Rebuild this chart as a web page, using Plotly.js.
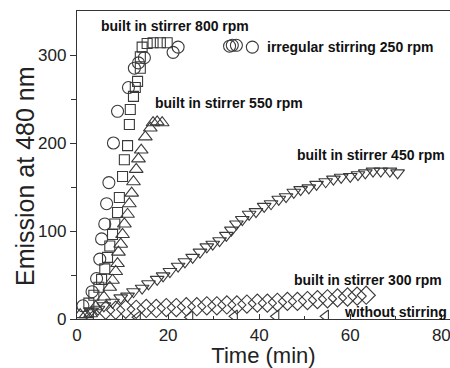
<!DOCTYPE html>
<html>
<head>
<meta charset="utf-8">
<script src="https://cdn.plot.ly/plotly-3.0.1.min.js"></script>
<style>html,body{margin:0;padding:0;background:#fff;}#chart{width:450px;height:368px;}</style>
</head>
<body>
<div id="chart"></div>
<script>
// irregular stirring 250 rpm (circles)
var circX = [1.3, 3.3, 4.3, 5.0, 5.4, 6.1, 6.5, 7.0, 8.0, 8.9, 11.3, 12.6, 13.5, 14.8, 21.1, 22.2, 33.5, 34.1, 35.0, 38.5];
var circY = [15, 31, 46, 68, 91, 108, 131, 155, 200, 236, 263, 285, 291, 297, 303, 309, 310, 311, 311, 309];
// built in stirrer 800 rpm (squares)
var sqX = [2.6, 3.7, 4.8, 5.4, 6.1, 6.7, 7.2, 7.8, 8.3, 8.9, 9.3, 10.0, 10.4, 11.1, 11.5, 11.7, 12.4, 12.8, 13.3, 13.9, 13.9, 14.3, 15.4, 16.7, 18.3, 19.8];
var sqY = [18, 27, 36, 45, 57, 70, 83, 96, 108, 121, 138, 162, 181, 197, 221, 238, 253, 263, 270, 285, 298, 309, 313, 314, 314, 314];
// built in stirrer 550 rpm (up triangles)
var upX = [0.7, 2.0, 3.0, 4.1, 5.9, 7.2, 7.8, 8.5, 8.9, 9.1, 9.6, 10.0, 10.4, 11.1, 11.5, 12.0, 12.4, 13.0, 13.5, 14.1, 15.0, 16.1, 16.7, 17.6, 18.7];
var upY = [5, 5, 6, 14, 25, 36, 44, 54, 63, 76, 85, 96, 108, 119, 131, 143, 156, 170, 182, 192, 207, 217, 223, 224, 223];
// built in stirrer 450 rpm (down triangles)
var dnX = [3.0, 4.6, 5.9, 7.8, 9.6, 11.1, 12.4, 14.3, 15.7, 17.6, 18.9, 20.4, 22.2, 23.7, 25.4, 27.0, 28.5, 29.8, 31.3, 32.8, 33.9, 35.0, 36.3, 37.8, 39.3, 41.1, 42.6, 44.3, 45.9, 47.6, 49.1, 50.9, 52.6, 54.6, 56.3, 58.0, 60.0, 61.7, 63.3, 65.0, 66.7, 68.7, 70.4];
var dnY = [9, 11, 15, 19, 24, 26, 31, 35, 40, 45, 49, 54, 60, 65, 70, 76, 82, 85, 89, 95, 101, 108, 113, 119, 122, 128, 131, 136, 139, 144, 147, 149, 153, 156, 159, 161, 162, 164, 166, 168, 168, 168, 166];
// built in stirrer 300 rpm (diamonds)
var diaX = [6.3, 8.5, 10.7, 13.0, 15.2, 17.4, 19.6, 21.8, 24.0, 26.3, 28.5, 30.7, 32.9, 35.1, 37.3, 39.6, 41.8, 44.0, 46.2, 48.4, 50.6, 52.8, 55.0, 57.2, 59.4, 61.5, 63.5];
var diaY = [10, 10, 11, 11, 12, 12, 13, 13, 14, 14, 15, 15, 16, 16, 17, 18, 18, 19, 20, 20, 21, 22, 23, 24, 25, 26, 27];
// without stirring (left triangles)
var lftX = [3.0, 13.3, 24.8, 34.6, 43.7, 54.6];
var lftY = [2, 2, 2, 3, 3, 3];

var xTicks = [0, 20, 40, 60, 80];
var yTicks = [0, 100, 200, 300];

var labels = [
  {text: 'built in stirrer 800 rpm', x: 4.8, y: 333},
  {text: 'irregular stirring 250 rpm', x: 41.3, y: 309},
  {text: 'built in stirrer 550 rpm', x: 16.7, y: 246},
  {text: 'built in stirrer 450 rpm', x: 47.9, y: 186},
  {text: 'built in stirrer 300 rpm', x: 47.2, y: 44},
  {text: 'without stirring', x: 58.2, y: 8}
];

var mk = function(sym, size) {
  return {symbol: sym, size: size, color: '#3a3a3a', line: {color: '#3a3a3a', width: 1.1}};
};
var traces = [
  {x: lftX, y: lftY, mode: 'markers', type: 'scatter', marker: mk('triangle-left-open', 11)},
  {x: diaX, y: diaY, mode: 'markers', type: 'scatter', marker: mk('diamond-open', 14)},
  {x: dnX, y: dnY, mode: 'markers', type: 'scatter', marker: mk('triangle-down-open', 12)},
  {x: upX, y: upY, mode: 'markers', type: 'scatter', marker: mk('triangle-up-open', 12)},
  {x: sqX, y: sqY, mode: 'markers', type: 'scatter', marker: mk('square-open', 10)},
  {x: circX, y: circY, mode: 'markers', type: 'scatter', marker: mk('circle-open', 12)}
];

var annots = labels.map(function(a) {
  return {text: '<b>' + a.text + '</b>', x: a.x, y: a.y, xref: 'x', yref: 'y',
    xanchor: 'left', yanchor: 'middle', showarrow: false,
    font: {size: 14, color: '#111', family: 'Liberation Sans, Arial, sans-serif'}};
});
annots.push({text: 'Emission at 480 nm', textangle: -90, xref: 'paper', yref: 'paper',
  x: (25 - 77) / 373, y: (319 - 176) / 308, xanchor: 'center', yanchor: 'middle',
  showarrow: false, font: {size: 25, color: '#222', family: 'Liberation Sans, Arial, sans-serif'}});

var layout = {
  width: 450, height: 368,
  margin: {l: 77, r: 0, t: 11, b: 49},
  paper_bgcolor: '#fff', plot_bgcolor: '#fff',
  showlegend: false,
  font: {family: 'Liberation Sans, Arial, sans-serif', color: '#222'},
  xaxis: {
    range: [0, 81.9], tickvals: xTicks, ticktext: xTicks.map(String),
    ticks: 'inside', ticklen: 5, tickcolor: '#333', showgrid: false, zeroline: false,
    showline: true, linecolor: '#333', linewidth: 1.2, mirror: true,
    tickfont: {size: 17}, ticklabeloverflow: 'allow',
    minor: {tickvals: [10, 30, 50, 70], ticks: 'inside', ticklen: 3, tickcolor: '#333'},
    title: {text: 'Time (min)', font: {size: 22}, standoff: 2}
  },
  yaxis: {
    range: [0, 350], tickvals: yTicks, ticktext: yTicks.map(String),
    ticks: 'outside', ticklen: 6, tickcolor: '#333', showgrid: false, zeroline: false,
    showline: true, linecolor: '#333', linewidth: 1.2,
    tickfont: {size: 17},
    minor: {tickvals: [50, 150, 250], ticks: 'outside', ticklen: 5, tickcolor: '#333'}
  },
  annotations: annots
};

Plotly.newPlot('chart', traces, layout, {displayModeBar: false, staticPlot: true});
</script>
</body>
</html>
